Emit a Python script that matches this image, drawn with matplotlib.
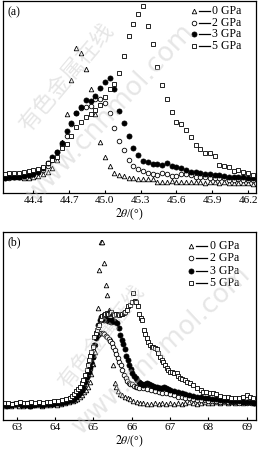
import matplotlib
matplotlib.use("Agg")
import matplotlib.pyplot as plt

plt.rcParams['font.family'] = ['Liberation Serif', 'DejaVu Serif']
plt.rcParams['mathtext.fontset'] = 'stix'

labels = ['0 GPa', '2 GPa', '3 GPa', '5 GPa']

# ---- panel (a): 2theta scan, step 0.04
a_x = [44.16, 44.20, 44.24, 44.28, 44.32, 44.36, 44.40, 44.44, 44.48, 44.52,
       44.56, 44.60, 44.64, 44.68, 44.72, 44.76, 44.80, 44.84, 44.88, 44.92,
       44.96, 45.00, 45.04, 45.08, 45.12, 45.16, 45.20, 45.24, 45.28, 45.32,
       45.36, 45.40, 45.44, 45.48, 45.52, 45.56, 45.60, 45.64, 45.68, 45.72,
       45.76, 45.80, 45.84, 45.88, 45.92, 45.96, 46.00, 46.04, 46.08, 46.12,
       46.16, 46.20, 46.24]
a_0gpa = [16, 16, 16, 16, 15.5, 15.5, 16, 17.5, 19, 21,
          25, 33, 51, 79, 113, 145, 140, 124, 104, 79,
          51, 36, 27, 20, 18.5, 17, 15.3, 14.7, 13.7, 13.7,
          13.7, 13.7, 11.3, 11.3, 11.3, 12, 11.3, 11.5, 11, 11.3,
          11, 11.3, 10.5, 11.3, 11, 10.5, 11, 10.5, 10.5, 10.5,
          10.5, 10.5, 9]
a_2gpa = [15, 15, 16, 16.5, 17, 18, 19, 21, 23, 27,
          33, 41, 48, 57, 69, 80, 85, 86, 87, 93.5,
          93.5, 89.5, 80, 65, 52, 43, 33, 27, 24, 22,
          20, 19.5, 18.5, 19.7, 18.7, 17, 17, 18.7, 19, 18,
          16.3, 16.5, 16, 15, 15, 14.7, 14.7, 13, 13, 14,
          13, 13, 13]
a_3gpa = [15, 16, 16, 16.5, 17, 18, 19.5, 21.5, 25, 30,
          36, 41, 49.7, 62.3, 69.7, 79.7, 86.3, 93, 92.3, 97,
          105.3, 111.3, 114.7, 103.7, 82.3, 70.3, 57, 44.7, 38, 32,
          30.7, 29.5, 29, 28, 29.7, 27, 25.7, 25, 23, 21,
          21, 20, 18.7, 18.7, 18, 18, 17, 16.5, 16, 15.7,
          15.7, 15.3, 14.7]
a_5gpa = [19.5, 20, 20, 20.5, 21, 22, 23, 24.5, 26.5, 30,
          33, 36, 45, 49, 57, 66, 71, 76, 79, 83,
          88, 96, 104, 109, 120, 137, 157, 169, 179, 187,
          167, 148.7, 125.7, 108, 94, 80.7, 70.7, 68.7, 63, 55.7,
          48, 44, 39.7, 39.7, 37.3, 28, 27.3, 26.3, 22.3, 23,
          21.3, 20.3, 18]
a_ticks = [44.4, 44.7, 45.0, 45.3, 45.6, 45.9, 46.2]

# ---- panel (b)
b_0gpa_x = [62.66, 62.76, 62.86, 62.96, 63.06, 63.16, 63.26, 63.36, 63.46, 63.56,
            63.66, 63.76, 63.86, 63.96, 64.06, 64.16, 64.26, 64.36, 64.46, 64.52,
            64.58, 64.64, 64.70, 64.75, 64.80, 64.85, 64.90, 64.95, 65.00, 65.04,
            65.08, 65.11, 65.15, 65.19, 65.23, 65.28, 65.33, 65.36, 65.40, 65.45,
            65.52, 65.56, 65.60, 65.64, 65.70, 65.76, 65.83, 65.90, 65.96, 66.04,
            66.13, 66.22, 66.30, 66.40, 66.50, 66.60, 66.70, 66.80, 66.90, 67.00,
            67.10, 67.20, 67.30, 67.40, 67.50, 67.60, 67.70, 67.80, 67.90, 68.00,
            68.10, 68.20, 68.30, 68.40, 68.50, 68.60, 68.70, 68.80, 68.90, 69.00,
            69.10, 69.18]
b_0gpa = [14, 15, 14, 15, 14, 14, 15, 14, 15, 15,
          14, 15, 15, 16, 15, 16, 17, 18, 19, 20,
          21, 23, 25, 28, 30, 33, 38, 46, 56, 68,
          85, 112, 150, 178, 178, 157, 135, 125, 110, 80,
          55, 37, 33, 29, 26, 25, 23, 22, 21, 19,
          18, 17, 17, 16, 16, 17, 16, 17, 16, 17,
          16, 17, 16, 17, 18, 17, 16, 17, 18, 17,
          17, 18, 17, 18, 17, 18, 17, 18, 17, 18,
          18, 17]

b_2gpa_x = [62.70, 62.80, 62.90, 63.00, 63.10, 63.20, 63.30, 63.40, 63.50, 63.60,
            63.70, 63.80, 63.90, 64.00, 64.10, 64.20, 64.30, 64.40, 64.46, 64.52,
            64.58, 64.64, 64.70, 64.76, 64.82, 64.87, 64.92, 64.96, 65.00, 65.04,
            65.08, 65.12, 65.16, 65.20, 65.24, 65.28, 65.32, 65.36, 65.40, 65.44,
            65.48, 65.52, 65.56, 65.60, 65.64, 65.68, 65.72, 65.76, 65.80, 65.84,
            65.88, 65.92, 65.96, 66.00, 66.05, 66.10, 66.15, 66.20, 66.30, 66.40,
            66.50, 66.60, 66.70, 66.80, 66.90, 67.00, 67.10, 67.20, 67.30, 67.40,
            67.50, 67.60, 67.70, 67.80, 67.90, 68.00, 68.10, 68.20, 68.30, 68.40,
            68.50, 68.60, 68.70, 68.80, 68.90, 69.00, 69.10, 69.18]
b_2gpa = [16, 15, 16, 16, 15, 16, 17, 16, 16, 17,
          16, 17, 17, 18, 18, 19, 20, 22, 23, 25,
          27, 29, 32, 35, 40, 45, 51, 56, 63, 75,
          83, 85, 86, 87, 87, 86, 84, 83, 81, 79,
          77, 73, 70, 66, 62, 58, 55, 50, 45, 42,
          39, 37, 36, 36, 34, 33, 33, 32, 32, 31,
          30, 29, 28, 27, 27, 26, 25, 23, 23, 22,
          22, 21, 20, 20, 20, 19, 19, 19, 18, 19,
          18, 18, 18, 17, 18, 17, 17, 17]

b_3gpa_x = [62.65, 62.75, 62.85, 62.95, 63.05, 63.15, 63.25, 63.35, 63.45, 63.55,
            63.65, 63.75, 63.85, 63.95, 64.05, 64.15, 64.25, 64.35, 64.45, 64.50,
            64.55, 64.60, 64.65, 64.70, 64.74, 64.79, 64.84, 64.88, 64.91, 64.95,
            64.98, 65.02, 65.06, 65.09, 65.13, 65.17, 65.21, 65.25, 65.29, 65.33,
            65.37, 65.41, 65.45, 65.49, 65.53, 65.57, 65.61, 65.66, 65.70, 65.74,
            65.78, 65.82, 65.86, 65.90, 65.94, 65.98, 66.02, 66.06, 66.10, 66.14,
            66.18, 66.22, 66.26, 66.30, 66.35, 66.40, 66.45, 66.50, 66.55, 66.60,
            66.65, 66.70, 66.75, 66.80, 66.85, 66.90, 66.95, 67.00, 67.10, 67.20,
            67.30, 67.40, 67.50, 67.60, 67.70, 67.80, 67.90, 68.00, 68.10, 68.20,
            68.30, 68.40, 68.50, 68.60, 68.70, 68.80, 68.90, 69.00, 69.10, 69.18]
b_3gpa = [15, 14, 15, 16, 17, 15, 15, 14, 15, 16,
          15, 16, 16, 16, 17, 17, 18, 19, 20, 21,
          23, 25, 27, 30, 33, 38, 43, 48, 53, 58,
          63, 75, 82, 87, 95, 100, 103, 102, 100, 101,
          99, 100, 98, 100, 99, 98, 97, 92, 85, 80,
          76, 71, 64, 60, 55, 51, 47, 44, 42, 40,
          38, 37, 36, 35, 36, 37, 36, 35, 34, 33,
          33, 32, 32, 32, 33, 32, 31, 30, 29, 28,
          27, 26, 25, 24, 23, 23, 22, 22, 21, 21,
          20, 20, 20, 19, 19, 19, 18, 18, 18, 17]

b_5gpa_x = [62.68, 62.78, 62.88, 62.98, 63.08, 63.18, 63.28, 63.38, 63.48, 63.58,
            63.68, 63.78, 63.88, 63.98, 64.08, 64.18, 64.28, 64.38, 64.44, 64.50,
            64.55, 64.60, 64.65, 64.70, 64.74, 64.78, 64.83, 64.86, 64.89, 64.92,
            64.95, 64.98, 65.02, 65.06, 65.09, 65.12, 65.15, 65.19, 65.23, 65.27,
            65.31, 65.35, 65.39, 65.43, 65.47, 65.51, 65.55, 65.59, 65.63, 65.67,
            65.71, 65.75, 65.79, 65.83, 65.87, 65.91, 65.95, 66.00, 66.04, 66.08,
            66.12, 66.16, 66.20, 66.23, 66.27, 66.31, 66.35, 66.39, 66.43, 66.48,
            66.52, 66.56, 66.60, 66.65, 66.69, 66.74, 66.78, 66.82, 66.87, 66.91,
            66.95, 67.00, 67.05, 67.10, 67.17, 67.22, 67.26, 67.32, 67.39, 67.45,
            67.52, 67.60, 67.70, 67.80, 67.87, 67.95, 68.05, 68.13, 68.20, 68.30,
            68.40, 68.50, 68.60, 68.70, 68.80, 68.90, 69.00, 69.08, 69.17]
b_5gpa = [17, 17, 16, 17, 18, 17, 17, 18, 17, 18,
          17, 18, 18, 19, 19, 20, 21, 22, 24, 26,
          29, 31, 33, 37, 40, 45, 50, 55, 60, 64,
          68, 73, 83, 87, 90, 93, 95, 101, 104, 105,
          106, 107, 106, 107, 108, 106, 105, 106, 106, 105,
          106, 106, 107, 108, 110, 114, 115, 118, 127, 119,
          118, 114, 106, 102, 100, 90, 86, 82, 78, 75,
          73, 73, 72, 71, 67, 63, 60, 58, 55, 52,
          50, 48, 48, 47, 47, 44, 42, 41, 40, 38,
          37, 35, 32, 30, 28, 28, 27, 27, 26, 24,
          23, 23, 22, 22, 22, 23, 25, 23, 22]
b_ticks = [63, 64, 65, 66, 67, 68, 69]

styles = [dict(marker='^', mfc='white', ms=3.3),
          dict(marker='o', mfc='white', ms=3.3),
          dict(marker='o', mfc='black', ms=3.6),
          dict(marker='s', mfc='white', ms=3.3)]

W, H = 259, 459
fig = plt.figure(figsize=(W / 100, H / 100), dpi=100)
ax1 = fig.add_axes([3 / W, 1 - 193 / H, 253 / W, 192 / H])
ax2 = fig.add_axes([3 / W, 1 - 420 / H, 253 / W, 188 / H])

series_a = [a_0gpa, a_2gpa, a_3gpa, a_5gpa]
series_b = [(b_0gpa_x, b_0gpa), (b_2gpa_x, b_2gpa), (b_3gpa_x, b_3gpa), (b_5gpa_x, b_5gpa)]

for ys, st in zip(series_a, styles):
    ax1.plot(a_x, ys, ls='none', mec='black', mew=0.6, **st)
for (xs, ys), st in zip(series_b, styles):
    ax2.plot(xs, ys, ls='none', mec='black', mew=0.6, **st)


def legend(ax, xm, xl, xt, rows):
    # marker, then a short dash, then the label
    for st, lab, y in zip(styles, labels, rows):
        ax.plot([xm], [y], transform=ax.transAxes, ls='none', mec='black',
                mew=0.6, clip_on=False, **st)
        ax.plot(xl, [y, y], transform=ax.transAxes, color='black', lw=0.9)
        ax.text(xt, y, lab, transform=ax.transAxes, fontsize=8.5,
                ha='left', va='center')


legend(ax1, 0.755, [0.775, 0.818], 0.828, [0.948, 0.887, 0.828, 0.767])
legend(ax2, 0.742, [0.762, 0.806], 0.818, [0.927, 0.860, 0.794, 0.727])

ax1.set_xlim(44.146, 46.267)
ax1.set_ylim(0, 192)
ax1.set_xticks(a_ticks)
ax1.set_xticklabels(['%.1f' % t for t in a_ticks])
ax2.set_xlim(62.643, 69.243)
ax2.set_ylim(0, 188)
ax2.set_xticks(b_ticks)

for ax, tag in [(ax1, '(a)'), (ax2, '(b)')]:
    ax.set_yticks([])
    ax.tick_params(axis='x', direction='in', length=2.5, width=0.8,
                   labelsize=8, pad=2)
    for s in ax.spines.values():
        s.set_linewidth(0.9)
    ax.set_xlabel(r'$2\theta$/(°)', fontsize=8.5, labelpad=1)
    ax.text(0.018, 0.975, tag, transform=ax.transAxes, fontsize=8.5,
            va='top', ha='left')

# faint watermark
wm = dict(color='#c8c8c8', alpha=0.45, ha='center', va='center', zorder=0)
fig.text(66 / W, 1 - 77 / H, '有色金属在线', rotation=50, fontsize=16,
         family=['Noto Sans CJK SC'], **wm)
fig.text(110 / W, 1 - 113 / H, 'www.cnnmol.com', rotation=47, fontsize=19,
         family=['DejaVu Sans'], **wm)
fig.text(101 / W, 1 - 337 / H, '有色金属在线', rotation=52, fontsize=15,
         family=['Noto Sans CJK SC'], **wm)
fig.text(162 / W, 1 - 350 / H, 'www.cnnmol.com', rotation=43, fontsize=19,
         family=['DejaVu Sans'], **wm)

fig.savefig('out.png', dpi=100)
